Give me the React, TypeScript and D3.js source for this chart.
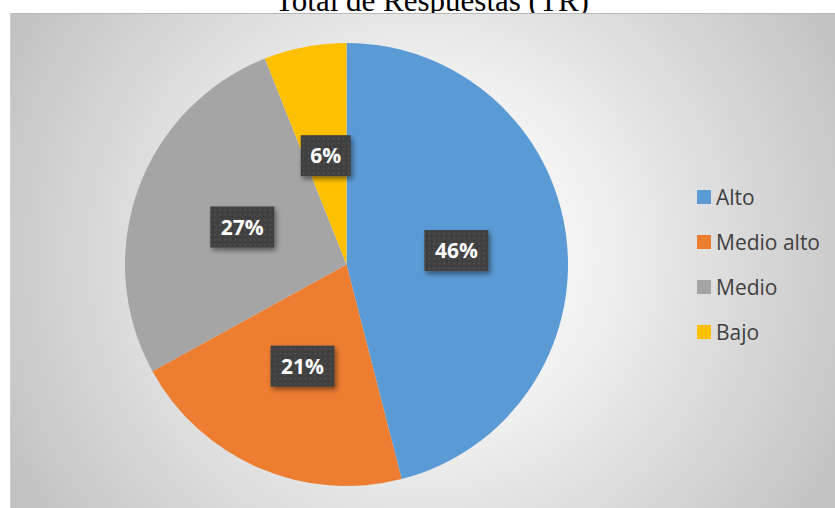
import { useEffect, useRef } from 'react';
import * as d3 from 'd3';

const categories = ['Alto', 'Medio alto', 'Medio', 'Bajo'];
const percentages = [46, 21, 27, 6];
const colors = ['#5B9BD5', '#ED7D31', '#A5A5A5', '#FFC000'];
const title = 'Total de Respuestas (TR)';

interface Slice {
  category: string;
  value: number;
  color: string;
}

const data: Slice[] = categories.map((c, i) => ({
  category: c,
  value: percentages[i],
  color: colors[i],
}));

const width = 835;
const height = 508;

const PieChart = () => {
  const svgRef = useRef<SVGSVGElement>(null);

  useEffect(() => {
    if (!svgRef.current) return;
    const root = d3.select(svgRef.current);
    root.selectAll('*').remove();
    root.attr('width', width).attr('height', height);

    const defs = root.append('defs');

    // background gradient of the chart area
    const grad = defs
      .append('radialGradient')
      .attr('id', 'bg')
      .attr('gradientUnits', 'userSpaceOnUse')
      .attr('cx', 425)
      .attr('cy', 255)
      .attr('r', 470);
    grad.append('stop').attr('offset', 0).attr('stop-color', '#ffffff');
    grad.append('stop').attr('offset', 0.35).attr('stop-color', '#f2f2f2');
    grad.append('stop').attr('offset', 1).attr('stop-color', '#c2c2c2');

    // dotted texture for the data labels
    const pat = defs
      .append('pattern')
      .attr('id', 'dots')
      .attr('patternUnits', 'userSpaceOnUse')
      .attr('width', 5)
      .attr('height', 5);
    pat.append('rect').attr('width', 5).attr('height', 5).attr('fill', '#404040');
    pat.append('rect').attr('x', 2).attr('y', 2).attr('width', 1.5).attr('height', 1.5).attr('fill', '#575757');

    const shadow = defs
      .append('filter')
      .attr('id', 'shadow')
      .attr('x', '-30%')
      .attr('y', '-30%')
      .attr('width', '160%')
      .attr('height', '160%');
    shadow
      .append('feDropShadow')
      .attr('dx', 2)
      .attr('dy', 3)
      .attr('stdDeviation', 2.5)
      .attr('flood-color', '#000')
      .attr('flood-opacity', 0.45);

    // title (sits partly behind the chart area, cut at the top as in the original)
    root
      .append('text')
      .attr('x', 432)
      .attr('y', 11)
      .attr('text-anchor', 'middle')
      .style('font-family', '"Liberation Serif", "Times New Roman", serif')
      .style('font-size', '31px')
      .style('fill', '#000')
      .text(title);

    // chart area
    root
      .append('rect')
      .attr('x', 10)
      .attr('y', 13)
      .attr('width', width)
      .attr('height', height)
      .attr('fill', 'url(#bg)');
    root
      .append('line')
      .attr('x1', 10)
      .attr('x2', width)
      .attr('y1', 13.5)
      .attr('y2', 13.5)
      .attr('stroke', '#b8b8b8')
      .attr('stroke-width', 1);
    root
      .append('line')
      .attr('x1', 10.5)
      .attr('x2', 10.5)
      .attr('y1', 13)
      .attr('y2', height)
      .attr('stroke', '#d0d0d0')
      .attr('stroke-width', 1);

    const cx = 346.5;
    const cy = 264.5;
    const radius = 221.5;

    const pie = d3
      .pie<Slice>()
      .value((d) => d.value)
      .sort(null);

    const arc = d3.arc<d3.PieArcDatum<Slice>>().innerRadius(0).outerRadius(radius);
    const labelArc = d3
      .arc<d3.PieArcDatum<Slice>>()
      .innerRadius(radius * 0.5)
      .outerRadius(radius * 0.5);

    const g = root.append('g').attr('transform', `translate(${cx}, ${cy})`);

    g.selectAll('path')
      .data(pie(data))
      .enter()
      .append('path')
      .attr('d', arc)
      .attr('fill', (d) => d.data.color);

    // data labels
    const boxW = 64;
    const boxH = 41;
    const labels = g
      .selectAll('g.label')
      .data(pie(data))
      .enter()
      .append('g')
      .attr('class', 'label')
      .attr('transform', (d) => {
        const [x, y] = labelArc.centroid(d);
        return `translate(${x}, ${y})`;
      });

    labels
      .append('rect')
      .attr('x', (d) => -(d.data.value < 10 ? 50 : boxW) / 2)
      .attr('y', -boxH / 2)
      .attr('width', (d) => (d.data.value < 10 ? 50 : boxW))
      .attr('height', boxH)
      .attr('fill', 'url(#dots)')
      .attr('filter', 'url(#shadow)');

    labels
      .append('text')
      .attr('text-anchor', 'middle')
      .attr('dy', '0.36em')
      .style('font-family', '"Open Sans", sans-serif')
      .style('font-weight', 'bold')
      .style('font-size', '21px')
      .style('fill', '#ffffff')
      .text((d) => `${d.data.value}%`);

    // legend
    const legend = root
      .append('g')
      .selectAll('g')
      .data(data)
      .enter()
      .append('g')
      .attr('transform', (_, i) => `translate(697, ${197 + i * 45})`);

    legend
      .append('rect')
      .attr('x', 0)
      .attr('y', -7)
      .attr('width', 14)
      .attr('height', 14)
      .attr('fill', (d) => d.color);

    legend
      .append('text')
      .attr('x', 19)
      .attr('dy', '0.36em')
      .style('font-family', '"Open Sans", sans-serif')
      .style('font-size', '21px')
      .style('fill', '#404040')
      .text((d) => d.category);
  }, []);

  return <svg ref={svgRef} style={{ position: 'absolute', left: 0, top: 0 }} />;
};

export default function App() {
  return <PieChart />;
}
